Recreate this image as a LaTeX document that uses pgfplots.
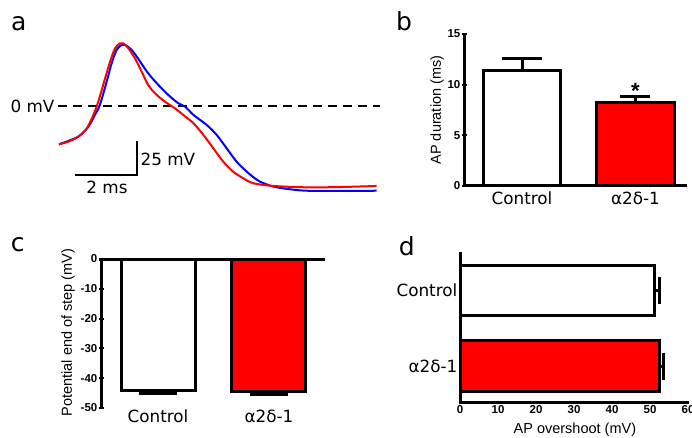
\documentclass[border=0pt]{standalone}
\usepackage{pgfplots}
\usepackage{pgfplotstable}
\pgfplotsset{compat=1.18}
\usepackage{fontspec}
\setmainfont{DejaVu Sans}
\newfontfamily\arial{Liberation Sans}
\newcommand\catfont{\fontsize{16.8}{19}\selectfont}
\newcommand\tickfont{\arial\bfseries\fontsize{11.5}{13}\selectfont}
\newcommand\labfont{\arial\fontsize{14.5}{16}\selectfont}
\newcommand\letfont{\fontsize{25}{28}\selectfont}

% action potential traces (time in ms, potential in mV)
\pgfplotstableread{
t V
0.03 -28.2
0.65 -22.6
0.98 -15.2
1.19 -6.6
1.35 0.7
1.57 17.9
1.73 31.4
1.89 41.2
2.05 44.9
2.16 44.9
2.38 41.2
2.65 32.6
2.91 24.0
3.24 15.4
3.56 8.1
3.88 2.0
4.10 -0.5
4.37 -6.6
4.80 -14.0
5.12 -21.3
5.44 -31.1
5.76 -40.9
6.09 -48.3
6.35 -53.2
6.52 -55.7
6.95 -59.3
7.48 -61.2
8.02 -62.3
9.10 -62.5
10.28 -62.3
}\tabctrl

\pgfplotstableread{
t V
0.03 -28.2
0.33 -26.2
0.65 -22.6
0.93 -16.4
1.14 -6.6
1.30 3.2
1.52 20.4
1.68 32.6
1.84 42.4
2.00 46.1
2.11 46.1
2.27 42.4
2.48 35.1
2.70 25.2
2.91 15.4
3.13 9.3
3.45 3.2
3.77 -1.7
4.04 -6.6
4.37 -12.7
4.69 -21.3
5.01 -31.1
5.33 -40.9
5.65 -48.3
5.98 -53.2
6.30 -56.8
6.95 -58.8
8.02 -59.8
9.10 -59.6
10.28 -58.8
}\tabad

\pgfplotsset{
  gp/.style={scale only axis, clip=false, anchor=south west,
    tick align=outside, major tick length=5pt,
    tick style={black, line width=2pt},
    /pgf/number format/assume math mode=true,
    yticklabel style={font=\tickfont, inner sep=1pt},
    xticklabel style={font=\catfont},
    label style={font=\labfont}},
  nolines/.style={axis line style={-, line width=3pt}},
  bx/.style={line width=3pt, draw=black, bar shift=0pt},
}

\begin{document}
\begin{tikzpicture}
\useasboundingbox (0,0) rectangle (692pt,438pt);

% panel letters
\node[anchor=base west, inner sep=0pt, font=\letfont] at (11pt,407pt) {a};
\node[anchor=base west, inner sep=0pt, font=\letfont] at (396pt,407pt) {b};
\node[anchor=base west, inner sep=0pt, font=\letfont] at (10.7pt,186pt) {c};
\node[anchor=base west, inner sep=0pt, font=\letfont] at (398.7pt,182pt) {d};

% a: traces
\begin{axis}[at={(58pt,236.8pt)}, anchor=south west, scale only axis,
  width=322.4pt, height=163.2pt, xmin=0, xmax=10.4, ymin=-70, ymax=50,
  hide axis, clip=false]
\addplot[black, line width=2pt, dash pattern=on 9pt off 6pt] coordinates {(0,0) (10.4,0)};
\addplot[blue, line width=2pt, smooth] table {\tabctrl};
\addplot[red, line width=2pt, smooth] table {\tabad};
\addplot[black, line width=2.5pt] coordinates {(0.55,-50.7) (2.55,-50.7) (2.55,-25.7)};
\node[anchor=east, font=\catfont] at (axis cs:0,0) {0 mV};
\node[anchor=west, font=\catfont] at (axis cs:2.55,-39) {25 mV};
\node[font=\catfont] at (axis cs:1.58,-59.5) {2 ms};
\end{axis}

% b: AP duration
\begin{axis}[gp, at={(464pt,252pt)}, width=223pt, height=152pt,
  xmin=-0.511, xmax=1.454, ymin=0, ymax=15, axis lines=left, nolines,
  ytick={0,5,10,15}, xtick={0,1}, xticklabels={Control,α2δ-1},
  xtick style={draw=none},
  ylabel={AP duration (ms)},
  ylabel style={at={(axis description cs:-0.121,0.5)}, anchor=center}]
\addplot[ybar, bx, bar width=0.687, fill=white,
  error bars/.cd, y dir=plus, y explicit, error bar style={line width=3pt},
  error mark options={rotate=90, line width=3pt, mark size=20pt}]
  coordinates {(0,11.35) +- (0,1.25)};
\addplot[ybar, bx, bar width=0.687, fill=red,
  error bars/.cd, y dir=plus, y explicit, error bar style={line width=3pt},
  error mark options={rotate=90, line width=3pt, mark size=15pt}]
  coordinates {(1,8.26) +- (0,0.56)};
\node[anchor=north, inner sep=0pt, font=\arial\bfseries\fontsize{22}{22}\selectfont] at (axis cs:1,10.1) {*};
\end{axis}

% c: potential at end of step
\begin{axis}[gp, at={(101pt,30pt)}, width=224pt, height=149pt,
  xmin=-0.514, xmax=1.505, ymin=-50, ymax=0,
  axis y line=left, axis x line=bottom, nolines, x axis line style={draw=none},
  xtick={0,1}, xticklabels={Control,α2δ-1}, xtick style={draw=none},
  xticklabel style={yshift=4pt},
  ytick={-50,-40,-30,-20,-10,0}, yticklabels={-50,-40,-30,-20,-10,0},
  ylabel={Potential end of step (mV)},
  ylabel style={at={(axis description cs:-0.147,0.507)}, anchor=center}]
\draw[line width=3pt] (axis cs:-0.53,0) -- (axis cs:1.505,0);
\addplot[ybar, bx, bar width=0.667, fill=white,
  error bars/.cd, y dir=minus, y explicit, error bar style={line width=3pt},
  error mark options={rotate=90, line width=3pt, mark size=19pt}]
  coordinates {(0,-44.0) +- (0,1.0)};
\addplot[ybar, bx, bar width=0.667, fill=red,
  error bars/.cd, y dir=minus, y explicit, error bar style={line width=3pt},
  error mark options={rotate=90, line width=3pt, mark size=19pt}]
  coordinates {(1,-44.6) +- (0,1.0)};
\end{axis}

% d: AP overshoot
\begin{axis}[gp, at={(460pt,35pt)}, width=228pt, height=151pt,
  xmin=0, xmax=60, ymin=-0.49, ymax=1.51, axis lines=left, nolines,
  xtick={0,10,20,30,40,50,60}, ytick={0,1}, yticklabels={α2δ-1,Control},
  ytick style={draw=none}, major tick length=3pt,
  xticklabel style={font=\tickfont, inner sep=1pt},
  yticklabel style={font=\catfont},
  xlabel={AP overshoot (mV)},
  xlabel style={at={(axis description cs:0.504,-0.179)}, anchor=center}]
\addplot[xbar, bx, bar width=0.675, fill=white,
  error bars/.cd, x dir=plus, x explicit, error bar style={line width=3pt},
  error mark options={rotate=90, line width=3pt, mark size=13.5pt}]
  coordinates {(51.3,1) +- (1.1,0)};
\addplot[xbar, bx, bar width=0.675, fill=red,
  error bars/.cd, x dir=plus, x explicit, error bar style={line width=3pt},
  error mark options={rotate=90, line width=3pt, mark size=13.5pt}]
  coordinates {(52.5,0) +- (1.1,0)};
\end{axis}
\end{tikzpicture}
\end{document}
